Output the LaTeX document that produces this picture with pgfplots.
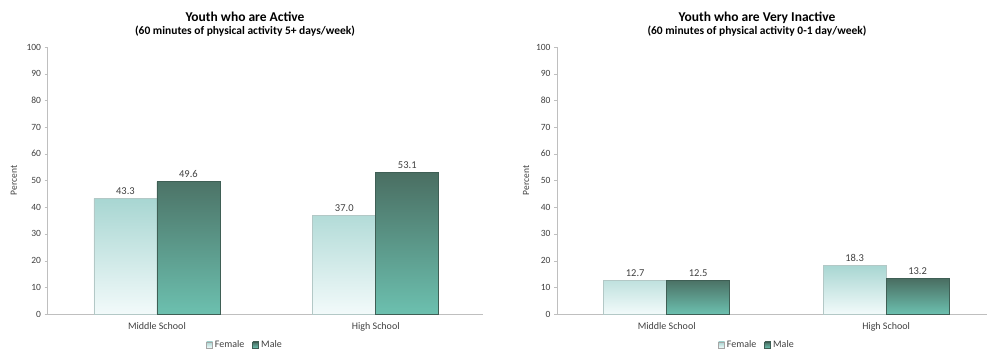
\documentclass[border=0pt]{standalone}
\usepackage{fontspec}
\setmainfont{Carlito}
\usepackage{pgfplots}
\pgfplotsset{compat=1.18}

\definecolor{femtop}{HTML}{A8D6D2}
\definecolor{fembot}{HTML}{F2FAFA}
\definecolor{femedge}{HTML}{B3C8C6}
\definecolor{maletop}{HTML}{4A6E62}
\definecolor{malebot}{HTML}{6CC0AF}
\definecolor{maleedge}{HTML}{3F5F55}
\definecolor{txt}{HTML}{404040}
\definecolor{axisgray}{HTML}{BFBFBF}

\pgfplotsset{
  youth/.style={
    scale only axis, height=267pt,
    ymin=0, ymax=100, ytick={0,10,...,100},
    xmin=-0.5,
    xtick={0,1}, xticklabels={Middle School, High School},
    axis x line=bottom, axis y line=left,
    axis line style={-, draw=axisgray},
    x tick style={draw=none}, y tick style={draw=axisgray},
    tick align=outside, major tick length=3pt,
    yticklabel style={font=\fontsize{9.5}{11}\selectfont, text=txt},
    xticklabel style={font=\fontsize{10}{12}\selectfont, text=txt, yshift=-2pt},
    /pgf/number format/assume math mode=true,
    ybar=0pt, bar width=63pt,
    ylabel={Percent},
    ylabel style={font=\fontsize{9.5}{11}\selectfont, text=txt, anchor=center},
    nodes near coords,
    nodes near coords style={font=\fontsize{10.5}{12}\selectfont, text=txt,
      /pgf/number format/.cd, fixed, fixed zerofill, precision=1},
    title style={align=center, anchor=north, text=black},
    legend style={draw=none, fill=none, font=\fontsize{10}{12}\selectfont,
      text=txt, anchor=center, legend columns=2,
      /tikz/every even column/.append style={column sep=6pt}},
  },
  female/.style={top color=femtop, bottom color=fembot, draw=femedge, line width=0.8pt,
    legend image code/.code={\draw[fill=fembot!60!femtop, draw=gray!70] (0pt,-3pt) rectangle (6pt,3pt);}},
  male/.style={top color=maletop, bottom color=malebot, draw=maleedge, line width=0.8pt,
    legend image code/.code={\draw[fill=maletop!50!malebot, draw=maleedge] (0pt,-3pt) rectangle (6pt,3pt);}},
}

\begin{document}
\begin{tikzpicture}
\useasboundingbox (0,0) rectangle (987pt,351pt);

% Active youth
\begin{axis}[youth,
  at={(47.5pt,37pt)}, anchor=south west,
  width=435.5pt, xmax=1.49,
  ylabel style={at={(axis description cs:-0.077,0.5)}},
  title={\fontsize{13.5}{16}\selectfont\bfseries Youth who are Active\\[1pt]
         \fontsize{11.5}{13}\selectfont\bfseries (60 minutes of physical activity 5+ days/week)},
  title style={at={(axis description cs:0.4535,1.12)}},
  legend style={at={(axis description cs:0.4535,-0.116)}},
]
\addplot[female] coordinates {(0,43.3) (1,37.0)};
\addplot[male]   coordinates {(0,49.6) (1,53.1)};
\legend{Female, Male}
\end{axis}

% Very inactive youth
\begin{axis}[youth,
  at={(557pt,37pt)}, anchor=south west,
  width=430pt, xmax=1.46,
  ylabel style={at={(axis description cs:-0.072,0.5)}},
  title={\fontsize{13.5}{16}\selectfont\bfseries Youth who are Very Inactive\\[1pt]
         \fontsize{11.5}{13}\selectfont\bfseries (60 minutes of physical activity 0-1 day/week)},
  title style={at={(axis description cs:0.465,1.12)}},
  legend style={at={(axis description cs:0.465,-0.116)}},
]
\addplot[female] coordinates {(0,12.7) (1,18.3)};
\addplot[male]   coordinates {(0,12.5) (1,13.2)};
\legend{Female, Male}
\end{axis}
\end{tikzpicture}
\end{document}
